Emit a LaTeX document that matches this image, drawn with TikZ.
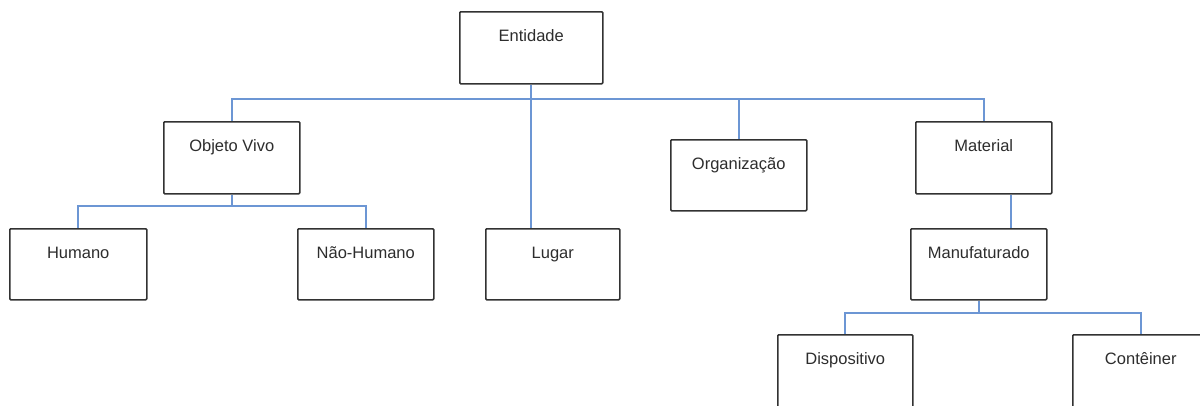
\documentclass[tikz,border=0pt]{standalone}
\usepackage{fontspec}
\setmainfont{Liberation Sans}
\begin{document}
\begin{tikzpicture}[x=1pt,y=-1pt,
  box/.style={draw=boxgray, line width=1.5pt, rounded corners=1pt, fill=white, inner sep=0pt},
  lbl/.style={anchor=base, inner sep=0pt, text=txtgray, font=\fontsize{16.5}{19}\selectfont},
  link/.style={draw=linkblue, line width=2pt}]
\definecolor{boxgray}{RGB}{50,50,50}
\definecolor{txtgray}{RGB}{45,45,45}
\definecolor{linkblue}{RGB}{108,150,212}
\useasboundingbox (0,0) rectangle (1200,405);

% box: name, left, top, right, bottom, label
\newcommand{\taxbox}[6]{%
  \node[box, minimum width={#4-#2}, minimum height={#5-#3}, anchor=north west] (#1) at (#2,#3) {};
  \node[lbl] (#1-t) at ([yshift=-30pt]#1.north) {#6};}

% horizontal rails of the tree
\coordinate (bus) at (530,99);
\coordinate (busobj) at (232,206);
\coordinate (busman) at (978,313);

\taxbox{ent}{459}{11}{602}{83}{Entidade}
\taxbox{obj}{163}{121}{299}{193}{Objeto Vivo}
\taxbox{org}{670}{139}{806}{210}{Organização}
\taxbox{mat}{915}{121}{1051}{193}{Material}
\taxbox{hum}{9}{228}{146}{299}{Humano}
\taxbox{nao}{297}{228}{433}{299}{Não-Humano}
\taxbox{lug}{485}{228}{619}{299}{Lugar}
\taxbox{man}{910}{228}{1046}{299}{Manufaturado}
\taxbox{dis}{777}{334}{912}{420}{Dispositivo}
\taxbox{con}{1072}{334}{1208}{420}{Contêiner}

% top level
\draw[link] (ent.south) -- (ent.south |- lug.north);
\draw[link] (obj.north) -- (obj.north |- bus) -- (mat.north |- bus) -- (mat.north);
\draw[link] (org.north) -- (org.north |- bus);
% living objects
\draw[link] (obj.south) -- (obj.south |- busobj);
\draw[link] (hum.north) -- (hum.north |- busobj) -- (nao.north |- busobj) -- (nao.north);
% material branch
\draw[link] ([xshift=27pt]mat.south) -- ([xshift=27pt]mat.south |- man.north);
\draw[link] (man.south) -- (man.south |- busman);
\draw[link] (dis.north) -- (dis.north |- busman) -- (con.north |- busman) -- (con.north);
\end{tikzpicture}
\end{document}
